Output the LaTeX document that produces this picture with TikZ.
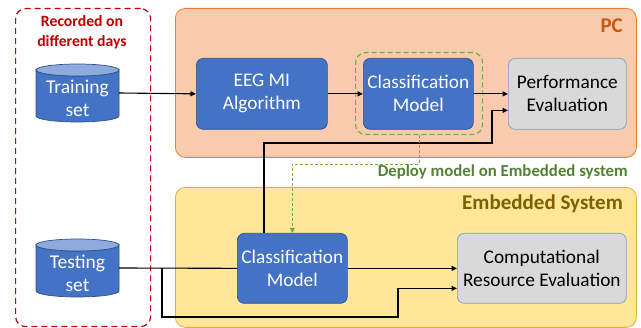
\documentclass[tikz,border=0pt]{standalone}
\usepackage{fontspec}
\setmainfont{Carlito}
\usetikzlibrary{arrows.meta,calc}
\definecolor{pcfill}{HTML}{F8CBAD}
\definecolor{pcdraw}{HTML}{ED7D31}
\definecolor{pctext}{HTML}{C55A11}
\definecolor{emfill}{HTML}{FFE699}
\definecolor{emdraw}{HTML}{D6B14A}
\definecolor{emtext}{HTML}{7F6000}
\definecolor{bluefill}{HTML}{4472C4}
\definecolor{bluedraw}{HTML}{2F528F}
\definecolor{grayfill}{HTML}{D9D9D9}
\definecolor{graydraw}{HTML}{7F9CC9}
\definecolor{grn}{HTML}{70AD47}
\definecolor{grntext}{HTML}{548235}
\definecolor{redd}{HTML}{C00000}
\definecolor{cylend}{HTML}{8FAADC}
\tikzset{
  blk/.style={rectangle, rounded corners=7pt, fill=bluefill, draw=bluedraw, line width=0.7pt,
    text=white, font=\fontsize{19.3}{23}\selectfont, align=center, inner sep=0pt, anchor=north west},
  gry/.style={blk, fill=grayfill, draw=graydraw, text=black},
  cont/.style={rectangle, rounded corners=10pt, line width=0.8pt, anchor=north west, inner sep=0pt},
  arr/.style={-{Triangle[length=5.5pt,width=5pt]}, line width=1.1pt},
  plain/.style={line width=1.1pt},
  dep/.style={-{Triangle[length=5pt,width=5pt]}, draw=grn, dashed, dash pattern=on 3pt off 2pt, line width=1pt},
  dbanchor/.style={rectangle, minimum width=83pt, minimum height=58pt, inner sep=0pt},
  dbtext/.style={text=white, font=\fontsize{19.5}{23}\selectfont, align=center, inner sep=0pt},
  cylbody/.style={fill=bluefill, draw=bluedraw, line width=0.7pt},
  cyltop/.style={fill=cylend, draw=bluedraw, line width=0.7pt},
  lbl/.style={font=\bfseries\fontsize{21}{24}\selectfont, inner sep=0pt}
}
\begin{document}
\begin{tikzpicture}[x=1pt,y=-1pt]
\useasboundingbox (0,0) rectangle (641,328);
% containers
\node[cont, draw=redd, dashed, dash pattern=on 6pt off 4pt, line width=1.2pt, minimum width=135pt, minimum height=318pt] (rec) at (15,8) {};
\node[font=\bfseries\fontsize{15.7}{20}\selectfont, text=redd, align=center] (rect) at (82,32) {Recorded on\\different days};
\node[cont, fill=pcfill, draw=pcdraw, minimum width=461pt, minimum height=149pt] (pc) at (175,8) {};
\node[lbl, text=pctext, anchor=east] (pct) at (623,26) {PC};
\node[cont, fill=emfill, draw=emdraw, minimum width=461pt, minimum height=140pt] (em) at (175,187) {};
\node[lbl, text=emtext, anchor=east] (emt) at (623,204) {Embedded System};
% green dashed group
\node[cont, draw=grn, dashed, dash pattern=on 5pt off 3pt, line width=1.2pt, minimum width=127pt, minimum height=82pt] (gbox) at (355,52) {};
% blocks
\node[blk, minimum width=131pt, minimum height=71pt] (eeg) at (196,58) {EEG MI\\Algorithm};
\node[blk, minimum width=110pt, minimum height=71pt] (cm1) at (363,58) {Classification\\Model};
\node[gry, minimum width=118pt, minimum height=71pt] (perf) at (508,58) {Performance\\Evaluation};
\node[blk, minimum width=110pt, minimum height=70pt] (cm2) at (237,233) {Classification\\Model};
\node[gry, minimum width=169pt, minimum height=70pt] (cre) at (457,233) {Computational\\Resource Evaluation};
% databases (cylinders)
\draw[cylbody] (36,70) -- (36,116) arc[start angle=180, end angle=0, x radius=41.5, y radius=6] -- (119,70) arc[start angle=0, end angle=180, x radius=41.5, y radius=6] -- cycle;
\draw[cyltop] (77.5,70) ellipse[x radius=41.5, y radius=6];
\node[dbanchor] (train) at (77.5,93) {};
\node[dbtext] (traint) at (77.5,98) {Training\\set};
\draw[cylbody] (36,245) -- (36,291) arc[start angle=180, end angle=0, x radius=41.5, y radius=6] -- (119,245) arc[start angle=0, end angle=180, x radius=41.5, y radius=6] -- cycle;
\draw[cyltop] (77.5,245) ellipse[x radius=41.5, y radius=6];
\node[dbanchor] (test) at (77.5,268) {};
\node[dbtext] (testt) at (77.5,273) {Testing\\set};
% connectors
\draw[arr] (train.east) -- (eeg.west);
\draw[arr] (eeg.east) -- (cm1.west);
\draw[arr] (cm1.east) -- (perf.west);
\coordinate (j1) at (492,143);
\draw[arr] (cm2.north west) ++(27,0) |- (j1) |- ($(perf.west)+(0,16.5)$);
\draw[dep] (gbox.south) -- ++(0,29) -| (cm2.north);
\node[font=\bfseries\fontsize{16.8}{19}\selectfont, text=grntext, anchor=east, inner sep=0pt] (dl) at (628,172) {Deploy model on Embedded system};
\draw[plain] (test.east) -- (cm2.west);
\draw[arr] (cm2.east) -- (cre.west);
\coordinate (t1) at (162,268);
\coordinate (t2) at (398,317);
\draw[arr] (t1) |- (t2) |- ($(cre.west)+(0,20)$);
\end{tikzpicture}
\end{document}
